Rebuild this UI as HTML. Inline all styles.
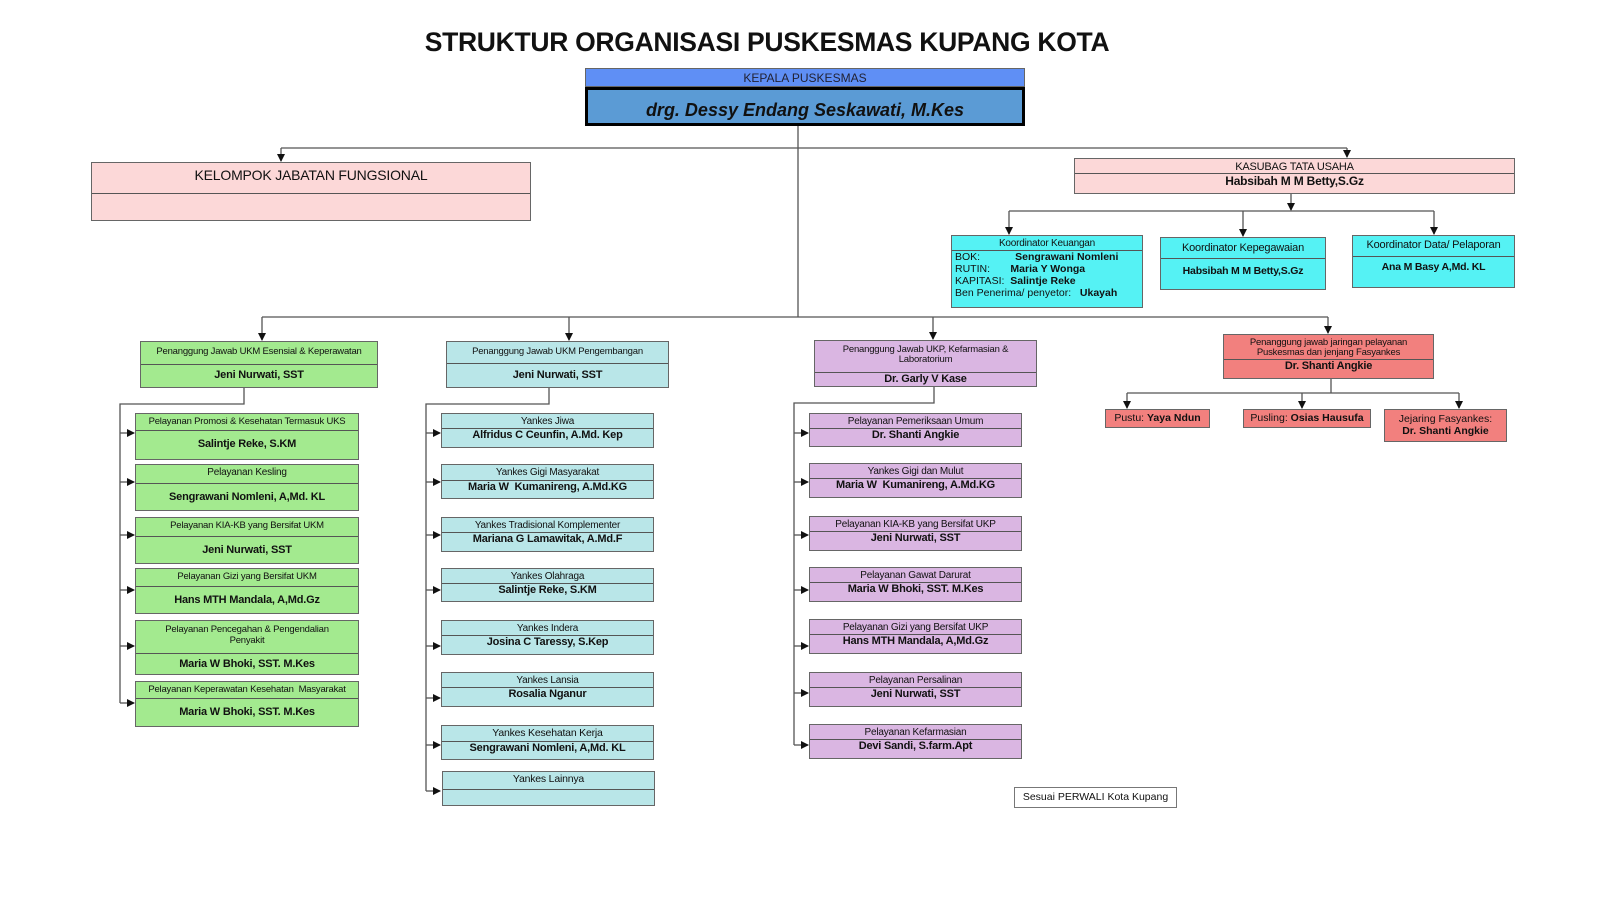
<!DOCTYPE html>
<html><head><meta charset="utf-8"><style>
body{margin:0;width:1597px;height:899px;background:#fff;position:relative;overflow:hidden;font-family:"Liberation Sans",Arial,sans-serif;color:#111}
.b{position:absolute;border:1px solid #666;box-sizing:border-box;text-align:center;overflow:hidden}
.t{border-bottom:1px solid #555;font-size:10px;line-height:11px;box-sizing:border-box;padding-top:2px;letter-spacing:-0.2px}
.n{font-size:11px;font-weight:bold;line-height:12px;letter-spacing:-0.2px}
.g{background:#a3ea8f}.c{background:#b9e6e8}.p{background:#dab6e2}.r{background:#f2807e}.k{background:#55f2f4}
svg{position:absolute;left:0;top:0}
</style></head><body>
<svg width="1597" height="899">
<defs><marker id="a" markerWidth="8" markerHeight="8" refX="7" refY="4" orient="auto" markerUnits="userSpaceOnUse"><path d="M0,0 L8,4 L0,8z" fill="#111"/></marker></defs>
<g stroke="#555" stroke-width="1.3" fill="none">
<path d="M798 125V317"/>
<path d="M281 148H1347"/>
<path d="M281 148V161" marker-end="url(#a)"/>
<path d="M1347 148V157" marker-end="url(#a)"/>
<path d="M1291 193V210" marker-end="url(#a)"/>
<path d="M1009 211H1434"/>
<path d="M1009 211V234" marker-end="url(#a)"/>
<path d="M1243 211V236" marker-end="url(#a)"/>
<path d="M1434 211V234" marker-end="url(#a)"/>
<path d="M262 317H1328"/>
<path d="M262 317V340" marker-end="url(#a)"/>
<path d="M569 317V340" marker-end="url(#a)"/>
<path d="M933 317V339" marker-end="url(#a)"/>
<path d="M1328 317V333" marker-end="url(#a)"/>
<path d="M244 387V404H120V703"/>
<path d="M120 433H134" marker-end="url(#a)"/><path d="M120 482H134" marker-end="url(#a)"/><path d="M120 535H134" marker-end="url(#a)"/><path d="M120 590H134" marker-end="url(#a)"/><path d="M120 646H134" marker-end="url(#a)"/><path d="M120 703H134" marker-end="url(#a)"/>
<path d="M549 387V404H426V791"/>
<path d="M426 433H440" marker-end="url(#a)"/><path d="M426 482H440" marker-end="url(#a)"/><path d="M426 535H440" marker-end="url(#a)"/><path d="M426 590H440" marker-end="url(#a)"/><path d="M426 646H440" marker-end="url(#a)"/><path d="M426 698H440" marker-end="url(#a)"/><path d="M426 745H440" marker-end="url(#a)"/><path d="M426 791H440" marker-end="url(#a)"/>
<path d="M934 386V403H794V745"/>
<path d="M794 433H808" marker-end="url(#a)"/><path d="M794 482H808" marker-end="url(#a)"/><path d="M794 535H808" marker-end="url(#a)"/><path d="M794 590H808" marker-end="url(#a)"/><path d="M794 646H808" marker-end="url(#a)"/><path d="M794 693H808" marker-end="url(#a)"/><path d="M794 745H808" marker-end="url(#a)"/>
<path d="M1331 378V393"/><path d="M1127 393H1459"/>
<path d="M1127 393V408" marker-end="url(#a)"/><path d="M1302 393V408" marker-end="url(#a)"/><path d="M1459 393V408" marker-end="url(#a)"/>
</g></svg>

<div style="position:absolute;left:0;width:1534px;top:27px;text-align:center;font-size:26.5px;font-weight:bold;letter-spacing:-0.3px">STRUKTUR ORGANISASI PUSKESMAS KUPANG KOTA</div>

<div class="b" style="left:585px;top:68px;width:440px;height:19px;background:#5f8ff5;font-size:12px;line-height:18px;color:#223">KEPALA PUSKESMAS</div>
<div class="b" style="left:585px;top:87px;width:440px;height:39px;background:#5b9bd5;border:3px solid #000;font-size:18px;font-weight:bold;font-style:italic;line-height:40px">drg. Dessy Endang Seskawati, M.Kes</div>

<div class="b" style="left:91px;top:162px;width:440px;height:59px;background:#fcd8d8"><div class="t" style="height:31px;font-size:14px;line-height:20px;padding-top:2px">KELOMPOK JABATAN FUNGSIONAL</div></div>

<div class="b" style="left:1074px;top:158px;width:441px;height:36px;background:#fcd8d8"><div class="t" style="height:15px;font-size:11px;line-height:12px">KASUBAG TATA USAHA</div><div class="n" style="font-size:12px;line-height:15px">Habsibah M M Betty,S.Gz</div></div>

<div class="b k" style="left:951px;top:235px;width:192px;height:73px;text-align:left"><div class="t" style="height:15px;text-align:center">Koordinator Keuangan</div>
<div style="font-size:10.5px;line-height:12px;padding-left:3px">BOK:&nbsp;&nbsp;&nbsp;&nbsp;&nbsp;&nbsp;&nbsp;&nbsp;&nbsp;&nbsp;&nbsp;&nbsp;<b>Sengrawani Nomleni</b><br>RUTIN:&nbsp;&nbsp;&nbsp;&nbsp;&nbsp;&nbsp;&nbsp;<b>Maria Y Wonga</b><br>KAPITASI:&nbsp;&nbsp;<b>Salintje Reke</b><br>Ben Penerima/ penyetor:&nbsp;&nbsp;&nbsp;<b>Ukayah</b></div></div>
<div class="b k" style="left:1160px;top:237px;width:166px;height:53px"><div class="t" style="height:21px;font-size:11px;line-height:16px">Koordinator Kepegawaian</div><div class="n" style="font-size:10.5px;line-height:24px">Habsibah M M Betty,S.Gz</div></div>
<div class="b k" style="left:1352px;top:235px;width:163px;height:53px"><div class="t" style="height:21px;font-size:11px;line-height:15px">Koordinator Data/ Pelaporan</div><div class="n" style="font-size:10.5px;line-height:20px">Ana M Basy A,Md. KL</div></div>

<!-- column 1 -->
<div class="b g" style="left:140px;top:341px;width:238px;height:47px"><div class="t" style="height:23px;font-size:9.5px;line-height:16px">Penanggung Jawab UKM Esensial &amp; Keperawatan</div><div class="n" style="line-height:20px">Jeni Nurwati, SST</div></div>
<div class="b g" style="left:135px;top:413px;width:224px;height:47px"><div class="t" style="height:17px;font-size:9.5px">Pelayanan Promosi &amp; Kesehatan Termasuk UKS</div><div class="n" style="line-height:27px">Salintje Reke, S.KM</div></div>
<div class="b g" style="left:135px;top:464px;width:224px;height:47px"><div class="t" style="height:19px">Pelayanan Kesling</div><div class="n" style="line-height:27px">Sengrawani Nomleni, A,Md. KL</div></div>
<div class="b g" style="left:135px;top:517px;width:224px;height:47px"><div class="t" style="height:19px;font-size:9.5px">Pelayanan KIA-KB yang Bersifat UKM</div><div class="n" style="line-height:27px">Jeni Nurwati, SST</div></div>
<div class="b g" style="left:135px;top:568px;width:224px;height:46px"><div class="t" style="height:18px;font-size:9.5px">Pelayanan Gizi yang Bersifat UKM</div><div class="n" style="line-height:27px">Hans MTH Mandala, A,Md.Gz</div></div>
<div class="b g" style="left:135px;top:620px;width:224px;height:55px"><div class="t" style="height:33px;font-size:9.5px;line-height:11px;padding-top:3px">Pelayanan Pencegahan &amp; Pengendalian<br>Penyakit</div><div class="n" style="line-height:20px">Maria W Bhoki, SST. M.Kes</div></div>
<div class="b g" style="left:135px;top:681px;width:224px;height:46px"><div class="t" style="height:17px;font-size:9.5px">Pelayanan Keperawatan Kesehatan&nbsp; Masyarakat</div><div class="n" style="line-height:27px">Maria W Bhoki, SST. M.Kes</div></div>

<!-- column 2 -->
<div class="b c" style="left:446px;top:341px;width:223px;height:47px"><div class="t" style="height:22px;font-size:9.5px;line-height:15px">Penanggung Jawab UKM Pengembangan</div><div class="n" style="line-height:22px">Jeni Nurwati, SST</div></div>
<div class="b c" style="left:441px;top:413px;width:213px;height:35px"><div class="t" style="height:15px;line-height:12px;padding-top:2px">Yankes Jiwa</div><div class="n">Alfridus C Ceunfin, A.Md. Kep</div></div>
<div class="b c" style="left:441px;top:464px;width:213px;height:35px"><div class="t" style="height:16px">Yankes Gigi Masyarakat</div><div class="n">Maria W&nbsp; Kumanireng, A.Md.KG</div></div>
<div class="b c" style="left:441px;top:517px;width:213px;height:35px"><div class="t" style="height:15px">Yankes Tradisional Komplementer</div><div class="n">Mariana G Lamawitak, A.Md.F</div></div>
<div class="b c" style="left:441px;top:568px;width:213px;height:34px"><div class="t" style="height:15px">Yankes Olahraga</div><div class="n">Salintje Reke, S.KM</div></div>
<div class="b c" style="left:441px;top:620px;width:213px;height:35px"><div class="t" style="height:15px">Yankes Indera</div><div class="n">Josina C Taressy, S.Kep</div></div>
<div class="b c" style="left:441px;top:672px;width:213px;height:35px"><div class="t" style="height:15px">Yankes Lansia</div><div class="n">Rosalia Nganur</div></div>
<div class="b c" style="left:441px;top:725px;width:213px;height:35px"><div class="t" style="height:16px;font-size:10.5px">Yankes Kesehatan Kerja</div><div class="n">Sengrawani Nomleni, A,Md. KL</div></div>
<div class="b c" style="left:442px;top:771px;width:213px;height:35px"><div class="t" style="height:18px;font-size:10.5px">Yankes Lainnya</div></div>

<!-- column 3 -->
<div class="b p" style="left:814px;top:340px;width:223px;height:47px"><div class="t" style="height:32px;font-size:9.5px;line-height:10px;padding-top:4px">Penanggung Jawab UKP, Kefarmasian &amp; Laboratorium</div><div class="n">Dr. Garly V Kase</div></div>
<div class="b p" style="left:809px;top:413px;width:213px;height:34px"><div class="t" style="height:15px">Pelayanan Pemeriksaan Umum</div><div class="n">Dr. Shanti Angkie</div></div>
<div class="b p" style="left:809px;top:463px;width:213px;height:35px"><div class="t" style="height:15px">Yankes Gigi dan Mulut</div><div class="n">Maria W&nbsp; Kumanireng, A.Md.KG</div></div>
<div class="b p" style="left:809px;top:516px;width:213px;height:35px"><div class="t" style="height:15px">Pelayanan KIA-KB yang Bersifat UKP</div><div class="n">Jeni Nurwati, SST</div></div>
<div class="b p" style="left:809px;top:567px;width:213px;height:35px"><div class="t" style="height:15px">Pelayanan Gawat Darurat</div><div class="n">Maria W Bhoki, SST. M.Kes</div></div>
<div class="b p" style="left:809px;top:619px;width:213px;height:35px"><div class="t" style="height:15px">Pelayanan Gizi yang Bersifat UKP</div><div class="n">Hans MTH Mandala, A,Md.Gz</div></div>
<div class="b p" style="left:809px;top:672px;width:213px;height:35px"><div class="t" style="height:15px">Pelayanan Persalinan</div><div class="n">Jeni Nurwati, SST</div></div>
<div class="b p" style="left:809px;top:724px;width:213px;height:35px"><div class="t" style="height:15px">Pelayanan Kefarmasian</div><div class="n">Devi Sandi, S.farm.Apt</div></div>

<!-- column 4 -->
<div class="b r" style="left:1223px;top:334px;width:211px;height:45px"><div class="t" style="height:25px;font-size:9.5px;line-height:10px;padding-top:3px">Penanggung jawab jaringan pelayanan<br>Puskesmas dan jenjang Fasyankes</div><div class="n">Dr. Shanti Angkie</div></div>
<div class="b r" style="left:1105px;top:409px;width:105px;height:19px;font-size:10.5px;line-height:17px">Pustu: <b>Yaya Ndun</b></div>
<div class="b r" style="left:1243px;top:409px;width:128px;height:19px;font-size:10.5px;line-height:17px">Pusling: <b>Osias Hausufa</b></div>
<div class="b r" style="left:1384px;top:409px;width:123px;height:33px;font-size:10.5px;line-height:12px;padding-top:3px">Jejaring Fasyankes:<br><b>Dr. Shanti Angkie</b></div>

<div class="b" style="left:1014px;top:787px;width:163px;height:21px;font-size:10.5px;line-height:19px;border-color:#777">Sesuai PERWALI Kota Kupang</div>
</body></html>
